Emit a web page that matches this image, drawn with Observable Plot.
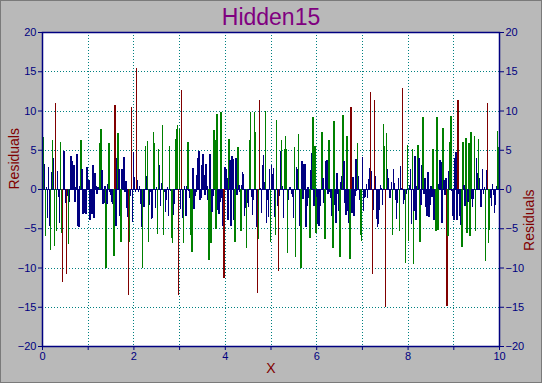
<!DOCTYPE html>
<html><head><meta charset="utf-8">
<script src="https://cdn.jsdelivr.net/npm/d3@7"></script>
<script src="https://cdn.jsdelivr.net/npm/@observablehq/plot@0.6"></script>
<style>
body{margin:0;background:#b9b9b9;}
#wrap{position:relative;width:542px;height:383px;background:#b9b9b9;overflow:hidden;font-family:"Liberation Sans",Arial,sans-serif;}
#wrap svg{position:absolute;left:0;top:0;}
#title{position:absolute;left:0;width:542px;top:3px;text-align:center;color:#800080;font-size:23px;line-height:28px;}
#border{position:absolute;left:0;top:0;width:540px;height:381px;border:1px solid #7a7a7a;pointer-events:none;}
</style></head><body>
<div id="wrap"><div id="title">Hidden15</div><div id="border"></div></div>
<script>
const title = "Hidden15";
const xLabel = "X";
const yLabel = "Residuals";
const xDomain = [0, 10];
const yDomain = [-20, 20];
const xGridValues = [0, 1, 2, 3, 4, 5, 6, 7, 8, 9, 10];
const yTickValues = [-20, -15, -10, -5, 0, 5, 10, 15, 20];
const residuals = [
 7.2, 6.6, 3.2, -6.0, 0.3, -3.7, 2.8, -4.7, -7.8, 2.2, 6.3, 4.0, -7.3, 10.9, -5.3, 2.3, -1.0, -4.3, 6.0, -5.6,
 -11.9, 4.9, 4.8, -1.8, -10.8, -0.9, -7.0, -1.7, 2.2, 4.2, 3.6, 1.9, 3.0, -1.7, 0.3, 4.5, -4.7, -4.9, 0.4, 6.2,
 2.5, -3.2, -2.0, -3.0, -3.2, 2.8, 0.8, 1.1, -3.9, -0.2, -3.2, 3.1, -3.7, 2.0, 0.4, -0.7, 0.3, -0.1, 5.8, 7.6,
 2.4, -1.9, -1.8, 0.4, -10.0, -1.9, 0.6, 5.8, -0.4, -0.8, -1.6, -1.9, -8.5, 10.7, -4.7, 4.0, 7.1, 2.5, -3.4, -6.7,
 2.6, 0.8, 4.1, -0.4, 1.0, -2.4, -3.6, -13.5, -6.8, -0.9, 10.4, -4.2,
 4.7, 1.5, -0.4, 15.4, 1.2, -0.4, 0.4, -1.9, -4.8, -10.0, -2.3, -2.3, 5.5, 1.7, 6.1, -6.7, -2.1, -0.4, -3.8, -3.7,
 7.3, 5.8, -2.4, 0.3, -5.7, 5.1, 3.0, -2.2, 0.8, 8.1, -5.8, -0.4, -2.9, -1.4, 0.3, -3.5, 5.5, -0.2, -6.2, -6.9,
 -3.3, -1.9, 6.4, 7.6, 8.1, -13.5, 7.6, -2.5, 12.6, -3.7, -6.9, 0.4, 0.0, -3.4, 0.4, 6.0, -0.2, -1.2, -5.9, -8.0,
 2.7, -2.5, -0.9, -0.4, 1.8, 3.9, 4.9, -1.4, -1.2, 3.0, 4.5, 1.8, -0.8, 3.2, 0.4, -1.4, -9.0, 4.5, -6.9, -2.9,
 -0.9, 7.5, 6.2, -5.1, 9.6, -2.7, -3.2, -1.7, 9.8, -1.2, -4.7, -11.4, 2.8, 2.6, 1.4, -4.0,
 6.4, 3.7, -4.7, 4.2, 3.8, -3.9, -6.8, 3.9, -0.8, 5.3, 0.5, -0.4, -5.3, 0.5, 2.2, 1.9, -3.5, -2.4, -7.5, -1.8,
 -2.3, 6.3, 9.8, -1.0, -3.3, -1.4, 9.8, 7.3, -4.9, -13.2, -6.4, 11.4, 0.1, -3.1, 3.0, 4.3, 0.9, 10.0, -4.3, -1.4,
 -3.6, 2.5, -6.7, 3.0, 1.9, 2.7, -3.6, -5.8, 8.8, -2.2, -10.5, -0.9, 4.9, 6.3, 0.4, -3.7, 5.1, 6.7, 5.1, -8.2,
 -1.4, 0.3, 0.3, -0.6, -1.0, -3.7, 5.3, -8.6, 2.8, 2.6, 7.0, -1.3, -4.7, -10.0, 3.6, -1.3, 3.2, 3.2, -4.9, -2.2,
 0.3, -1.2, -6.2, 2.4, 4.6, 9.2, -2.2, 5.5, -5.6, -1.0, -4.5,
 -4.7, -2.2, -0.1, 7.3, 1.4, -1.8, -6.4, 3.6, 3.7, -0.6, 6.3, -0.4, -1.2, -3.5, -7.5, 8.6, -2.0, -4.3, 2.0, -0.7,
 -2.8, -8.6, 0.9, 1.7, 9.4, 3.6, -1.8, -3.3, 6.8, -2.8, -4.3, -8.9, 10.4, -3.0, 1.5, -3.5, -0.9, 3.8, -0.3, 5.8,
 1.6, -1.4, -5.8, -6.6, 4.1, -2.8, -1.2, -1.0, 0.7, -1.2, 1.3, 2.7, 12.4, 2.3, -10.8, -2.7, 11.4, 1.7, -3.8, -4.9,
 -4.5, -2.7, 0.5, 0.1, -2.1, 8.3, 5.5, -15.0, 7.1, 2.6, 1.4, -1.1, -1.2, 0.9, -5.8, 2.5, 0.8, -1.4, -3.8, -1.8,
 1.4, -5.4, 2.9, 0.1, 12.9, -1.9, -1.4, -9.4, -0.7, 5.6, -6.6,
 0.5, 2.6, -4.5, 5.1, -9.5, -2.8, 4.2, -4.0, 0.4, 5.6, 3.9, -6.8, -2.0, 3.1, 9.2, -0.7, 1.4, -2.3, -3.5, 2.2,
 -3.6, -2.0, 0.4, -1.0, 5.1, -4.0, -3.4, -5.4, 9.2, -5.2, 0.7, 3.7, 3.5, -4.3, 7.8, 1.1, -0.8, 1.4, -14.9, -6.0,
 2.3, 6.0, 9.3, -0.2, -3.5, -3.9, 4.0, 4.7, -3.9, 11.4, -0.7, -3.4, -4.6, -7.4, 6.0, 0.5, -2.2, 6.5, -5.6, -1.6,
 5.8, -6.0, 7.3, -1.3, -2.3, -1.3, 6.8, -5.3, 3.9, 2.1, 6.4, 1.4, -2.3, -2.3, 2.5, -0.7, 0.2, -9.2, 2.4, 10.9,
 -6.9, -5.2, -1.2, -2.2, 0.6, -0.8, -3.1, -2.0, 0.4, 7.4, 5.3, -7.4
];
const colors = {small: "#000080", medium: "#008000", large: "#800000"};

const n = residuals.length;
const data = residuals.map((r, i) => ({x: xDomain[0] + i * (xDomain[1] - xDomain[0]) / (n - 1), r}));
const colorOf = r => Math.abs(r) > 10.2 ? colors.large : Math.abs(r) >= 5 ? colors.medium : colors.small;

const navy = "#000080", teal = "#008080", dred = "#800000";
const crisp = {shapeRendering: "crispEdges"};
const plot = Plot.plot({
  width: 542, height: 383,
  marginLeft: 42, marginRight: 43, marginTop: 32, marginBottom: 37,
  style: {background: "transparent", fontFamily: "'Liberation Sans', Arial, sans-serif", fontSize: "11px"},
  x: {domain: xDomain},
  y: {domain: yDomain},
  marks: [
    Plot.frame({fill: "white"}),
    Plot.gridX(xGridValues, {stroke: teal, strokeOpacity: 1, strokeDasharray: "1,2", ...crisp}),
    Plot.gridY(yTickValues, {stroke: teal, strokeOpacity: 1, strokeDasharray: "1,2", ...crisp}),
    Plot.ruleY([0], {stroke: navy, strokeWidth: 1, ...crisp}),
    Plot.ruleX(data, {x: "x", y1: 0, y2: "r", stroke: d => colorOf(d.r), strokeWidth: 1.5, ...crisp}),
    Plot.frame({stroke: navy, strokeWidth: 1.5}),
    Plot.axisY(yTickValues, {anchor: "left", tickSize: 4, tickPadding: 2, color: navy, label: null, fontSize: 11}),
    Plot.axisY(yTickValues, {anchor: "right", tickSize: 4, tickPadding: 2, color: navy, label: null, fontSize: 11}),
    Plot.axisX(xGridValues, {anchor: "bottom", tickSize: 4, tickPadding: 2, color: navy, label: null, fontSize: 11,
      tickFormat: d => d % 2 === 0 ? String(d) : ""}),
    Plot.text([yLabel], {frameAnchor: "left", dx: -28, rotate: -90, fill: dred, fontSize: 14}),
    Plot.text([yLabel], {frameAnchor: "right", dx: 30, rotate: -90, fill: dred, fontSize: 14}),
    Plot.text([xLabel], {frameAnchor: "bottom", dy: 26, fill: dred, fontSize: 14})
  ]
});
document.getElementById("wrap").insertBefore(plot, document.getElementById("title"));
document.getElementById("title").textContent = title;
</script>
</body></html>
